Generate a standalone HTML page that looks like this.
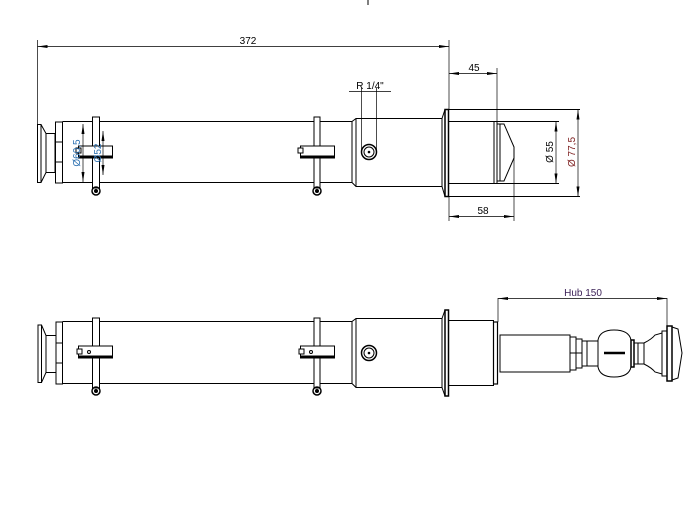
<!DOCTYPE html>
<html><head><meta charset="utf-8"><style>
html,body{margin:0;padding:0;background:#fff;}
svg{display:block;}
text{font-family:"Liberation Sans",sans-serif;font-size:10px;}
</style></head><body>
<svg width="691" height="529" viewBox="0 0 691 529" xmlns="http://www.w3.org/2000/svg">
<defs>
<marker id="a" markerWidth="10" markerHeight="6" refX="10" refY="3" orient="auto-start-reverse" markerUnits="userSpaceOnUse"><path d="M0,1.5 L10,3 L0,4.5z" fill="#000"/></marker>
</defs>
<g fill="none" stroke="#000" stroke-width="1">
<line x1="368" y1="0" x2="368" y2="5"/>
<!-- ===== TOP VIEW ===== -->
<!-- left end -->
<rect x="37.5" y="124.5" width="3.5" height="58"/>
<path d="M41,124.5 L46,133.5 L46,172.5 L41,182.5"/>
<rect x="46" y="133.5" width="9" height="39"/>
<rect x="55.5" y="122" width="7" height="61"/>
<line x1="55.5" y1="142" x2="62.5" y2="142"/><line x1="55.5" y1="162" x2="62.5" y2="162"/>
<!-- tube -->
<line x1="62.5" y1="121.5" x2="352" y2="121.5"/>
<line x1="62.5" y1="182.5" x2="352" y2="182.5"/>
<path d="M352,121.5 L356,118.5 L442,118.5 M352,182.5 L356,186.5 L442,186.5"/>
<line x1="356" y1="118.5" x2="356" y2="186.5"/>
<line x1="352" y1="121.5" x2="352" y2="182.5"/>
<!-- port circle -->
<circle cx="369" cy="152" r="7.5" stroke-width="1.5"/><circle cx="369" cy="152" r="5"/>
<circle cx="369" cy="152" r="0.8" fill="#000"/>
<!-- flange -->
<path d="M442,118.5 L445,109.5 L445,196.5 L442,186.5Z"/>
<rect x="445" y="109.5" width="3.5" height="87" stroke-width="1.5"/>
<line x1="448.5" y1="109.5" x2="580" y2="109.5"/>
<line x1="448.5" y1="196.5" x2="580" y2="196.5"/>
<line x1="448.5" y1="121.5" x2="559" y2="121.5"/>
<line x1="448.5" y1="183.5" x2="559" y2="183.5"/>
<rect x="494" y="121.5" width="3" height="62"/>
<path d="M497,124 L504,124 L514,147 L514,158 L504,181 L497,181"/>
<line x1="500" y1="124" x2="500" y2="181"/>
<!-- clamps top -->
<rect x="92.5" y="117" width="7" height="71" fill="#fff"/>
<rect x="78.5" y="146" width="34" height="12" fill="#fff"/>
<line x1="78.5" y1="157" x2="112.5" y2="157" stroke-width="3"/>
<rect x="76" y="148" width="5" height="5" fill="#fff"/>
<circle cx="96" cy="191" r="4" stroke-width="1.5"/><circle cx="96" cy="191" r="1.5" fill="#000"/>
<rect x="314" y="117" width="6" height="71" fill="#fff"/>
<rect x="300.5" y="146" width="34" height="12" fill="#fff"/>
<line x1="300.5" y1="157" x2="334.5" y2="157" stroke-width="3"/>
<rect x="298" y="148" width="5" height="5" fill="#fff"/>
<circle cx="317" cy="191" r="4" stroke-width="1.5"/><circle cx="317" cy="191" r="1.5" fill="#000"/>
<!-- small dims -->
<line x1="83" y1="124" x2="83" y2="182" marker-start="url(#a)" marker-end="url(#a)" stroke-width="0.7"/>
<line x1="103" y1="131" x2="103" y2="175" marker-start="url(#a)" marker-end="url(#a)" stroke-width="0.7"/>
<!-- dims -->
<line x1="37.5" y1="40" x2="37.5" y2="124" stroke-width="0.7"/>
<line x1="449" y1="40" x2="449" y2="109" stroke-width="0.7"/>
<line x1="37.5" y1="46.5" x2="449" y2="46.5" marker-start="url(#a)" marker-end="url(#a)" stroke-width="0.7"/>
<line x1="497" y1="68" x2="497" y2="121" stroke-width="0.7"/>
<line x1="449" y1="73.5" x2="497" y2="73.5" marker-start="url(#a)" marker-end="url(#a)" stroke-width="0.7"/>
<line x1="449" y1="196" x2="449" y2="221" stroke-width="0.7"/>
<line x1="514" y1="158" x2="514" y2="221" stroke-width="0.7"/>
<line x1="449" y1="216.5" x2="514" y2="216.5" marker-start="url(#a)" marker-end="url(#a)" stroke-width="0.7"/>
<line x1="556" y1="121.5" x2="556" y2="183.5" marker-start="url(#a)" marker-end="url(#a)" stroke-width="0.7"/>
<line x1="578" y1="109.5" x2="578" y2="196.5" marker-start="url(#a)" marker-end="url(#a)" stroke-width="0.7"/>
<line x1="349" y1="91.5" x2="391" y2="91.5" stroke-width="0.7"/>
<line x1="361.5" y1="88" x2="361.5" y2="152" stroke-width="0.7"/>
<line x1="376.5" y1="88" x2="376.5" y2="152" stroke-width="0.7"/>
<!-- ===== BOTTOM VIEW ===== -->
<rect x="38" y="325" width="3.5" height="57.5"/>
<path d="M41.5,325 L46,335.5 L46,372.5 L41.5,382.5"/>
<rect x="46" y="335.5" width="10" height="37"/>
<rect x="56" y="322" width="6.5" height="62"/>
<line x1="56" y1="343" x2="62.5" y2="343"/><line x1="56" y1="363" x2="62.5" y2="363"/>
<line x1="62.5" y1="321.5" x2="352" y2="321.5"/>
<line x1="62.5" y1="383.5" x2="352" y2="383.5"/>
<path d="M352,321.5 L356,318.5 L442,318.5 M352,383.5 L356,387.5 L442,387.5"/>
<line x1="356" y1="318.5" x2="356" y2="387.5"/>
<line x1="352" y1="321.5" x2="352" y2="383.5"/>
<circle cx="369" cy="353" r="7.5" stroke-width="1.5"/><circle cx="369" cy="353" r="5"/>
<circle cx="369" cy="353" r="0.8" fill="#000"/>
<path d="M442,318.5 L445,310 L445,396 L442,387.5Z"/>
<rect x="445" y="310" width="3.5" height="86" stroke-width="1.5"/>
<rect x="448.5" y="320.5" width="45" height="65"/>
<rect x="493.5" y="322" width="4" height="62" stroke-width="1.2"/>
<line x1="498" y1="298" x2="498" y2="322" stroke-width="0.7"/>
<line x1="667" y1="298" x2="667" y2="326" stroke-width="0.7"/>
<line x1="498" y1="298.5" x2="667" y2="298.5" marker-start="url(#a)" marker-end="url(#a)" stroke-width="0.7"/>
<rect x="500" y="335" width="70" height="37"/>
<rect x="570" y="337" width="6" height="33"/>
<rect x="576" y="339" width="6" height="29"/>
<line x1="570" y1="353" x2="582" y2="353"/>
<rect x="582" y="341" width="5" height="25"/>
<rect x="587" y="341" width="11" height="25"/>
<path d="M598,340 Q600,330 614,330 Q629,330 631,340 L631,367 Q629,377 614,377 Q600,377 598,367Z"/>
<line x1="604" y1="353" x2="625" y2="353" stroke-width="2.5"/>
<rect x="631" y="340" width="3" height="27" stroke-width="1.5"/>
<rect x="634" y="343" width="4" height="21"/>
<rect x="638" y="343" width="6" height="21"/>
<path d="M644,343 Q652,339 655,335 L662,333 L662,374 L655,372 Q652,368 644,364"/>
<rect x="662" y="331" width="5" height="45"/>
<rect x="667" y="326" width="5" height="55" stroke-width="1.5"/>
<path d="M672,327 L678,329 L682,353 L678,378 L672,380"/>
<!-- bottom clamps -->
<rect x="92.5" y="318" width="7" height="70" fill="#fff"/>
<rect x="78.5" y="346" width="34" height="12" fill="#fff"/>
<line x1="78.5" y1="357" x2="112.5" y2="357" stroke-width="3"/>
<rect x="77" y="349" width="5" height="5" fill="#fff"/>
<circle cx="89" cy="352" r="1.5"/>
<circle cx="96" cy="391" r="4" stroke-width="1.5"/><circle cx="96" cy="391" r="1.5" fill="#000"/>
<rect x="314" y="318" width="6" height="70" fill="#fff"/>
<rect x="300.5" y="346" width="34" height="12" fill="#fff"/>
<line x1="300.5" y1="357" x2="334.5" y2="357" stroke-width="3"/>
<rect x="299" y="349" width="5" height="5" fill="#fff"/>
<circle cx="311" cy="352" r="1.5"/>
<circle cx="317" cy="391" r="4" stroke-width="1.5"/><circle cx="317" cy="391" r="1.5" fill="#000"/>
</g>
<g fill="#000">
<text x="248" y="44" text-anchor="middle">372</text>
<text x="474" y="71" text-anchor="middle">45</text>
<text x="483" y="214" text-anchor="middle">58</text>
<text x="370" y="89" text-anchor="middle" font-size="9">R 1/4"</text>
<text x="583" y="296" text-anchor="middle" fill="#3a1f55">Hub 150</text>
<text transform="translate(553,152) rotate(-90)" text-anchor="middle">Ø 55</text>
<text transform="translate(575,152) rotate(-90)" text-anchor="middle" fill="#7a1a1a">Ø 77,5</text>
<text transform="translate(80,153) rotate(-90)" text-anchor="middle" font-size="8" fill="#2a6fb0">Ø60,5</text>
<text transform="translate(101,153) rotate(-90)" text-anchor="middle" font-size="8" fill="#2a6fb0">Ø52</text>
</g>
</svg>
</body></html>
